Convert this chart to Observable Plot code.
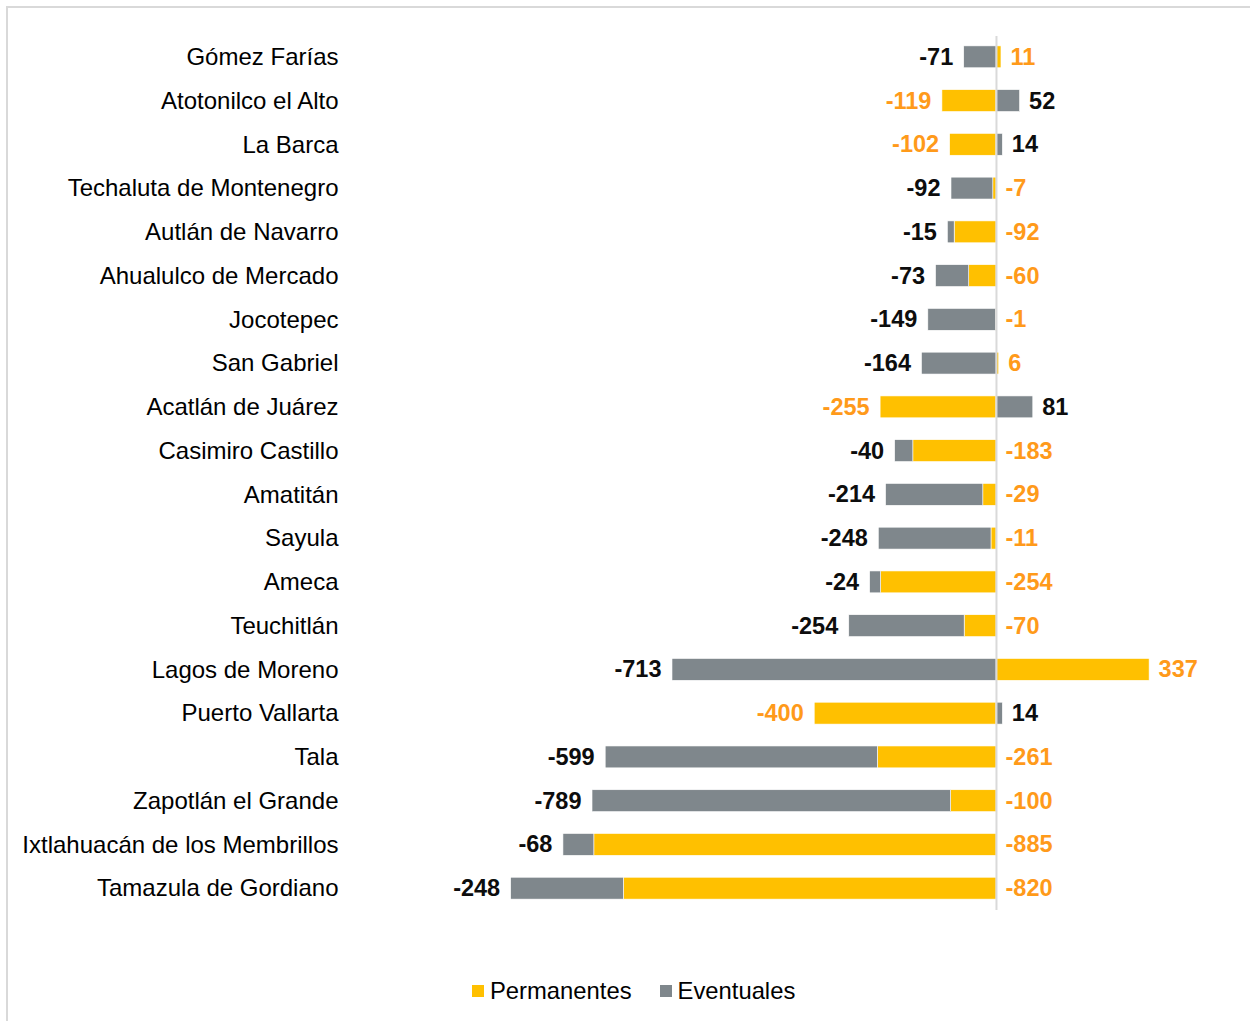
<!DOCTYPE html>
<html>
<head>
<meta charset="utf-8">
<script src="https://cdn.jsdelivr.net/npm/d3@7"></script>
<script src="https://cdn.jsdelivr.net/npm/@observablehq/plot@0.6"></script>
<style>
  html, body { margin: 0; padding: 0; overflow: hidden; background: #fff; width: 1250px; height: 1021px; }
  #frame { position: absolute; left: 6px; top: 6px; width: 1300px; height: 1100px; border: 2px solid #D9D9D9; box-sizing: border-box; }
  #chart { position: absolute; left: 0; top: 0; }
  #legend { position: absolute; left: 472px; top: 977px; display: flex; align-items: center;
            font-family: "Liberation Sans", Arial, sans-serif; font-size: 23.8px; color: #000; }
  .sw { width: 12px; height: 12px; display: inline-block; margin-right: 6px; }
  .item { display: flex; align-items: center; margin-right: 28px; }
</style>
</head>
<body>
<div id="frame"></div>
<div id="chart"></div>
<div id="legend"></div>
<script>
const categories = [
  "Gómez Farías", "Atotonilco el Alto", "La Barca", "Techaluta de Montenegro",
  "Autlán de Navarro", "Ahualulco de Mercado", "Jocotepec", "San Gabriel",
  "Acatlán de Juárez", "Casimiro Castillo", "Amatitán", "Sayula", "Ameca",
  "Teuchitlán", "Lagos de Moreno", "Puerto Vallarta", "Tala",
  "Zapotlán el Grande", "Ixtlahuacán de los Membrillos", "Tamazula de Gordiano"
];
const permanentes = [11, -119, -102, -7, -92, -60, -1, 6, -255, -183, -29, -11, -254, -70, 337, -400, -261, -100, -885, -820];
const eventuales  = [-71, 52, 14, -92, -15, -73, -149, -164, 81, -40, -214, -248, -24, -254, -713, 14, -599, -789, -68, -248];
const series = ["Permanentes", "Eventuales"];
const barColors = ["#FFC000", "#7F878C"];
const labelColors = {"Permanentes": "#FF9A1A", "Eventuales": "#0D0D0D"};

const rows = categories.flatMap((c, i) => [
  {cat: c, serie: "Permanentes", value: permanentes[i]},
  {cat: c, serie: "Eventuales", value: eventuales[i]}
]);

const leftLabels = [], rightLabels = [];
categories.forEach((c, i) => {
  const p = permanentes[i], e = eventuales[i];
  const neg = Math.min(p, 0) + Math.min(e, 0);
  const pos = Math.max(p, 0) + Math.max(e, 0);
  let l, r;
  if (p < 0 && e < 0) { l = {serie: "Eventuales", value: e}; r = {serie: "Permanentes", value: p}; }
  else if (p < 0) { l = {serie: "Permanentes", value: p}; r = {serie: "Eventuales", value: e}; }
  else { l = {serie: "Eventuales", value: e}; r = {serie: "Permanentes", value: p}; }
  leftLabels.push({cat: c, x: neg, ...l});
  rightLabels.push({cat: c, x: pos, ...r});
});

const chart = Plot.plot({
  width: 1250,
  height: 940,
  marginLeft: 348,
  marginRight: 20,
  marginTop: 24,
  marginBottom: 19,
  style: {fontFamily: "'Liberation Sans', Arial, sans-serif", background: "transparent"},
  x: {domain: [-1426, 515], axis: null},
  y: {domain: categories, padding: 0.5, round: false, axis: null},
  color: {domain: series, range: barColors},
  marks: [
    Plot.axisY({tickSize: 0, tickPadding: 10, fontSize: 24, fill: "#000", label: null}),
    Plot.barX(rows, {x: "value", y: "cat", fill: "serie", stroke: "#ffffff", strokeWidth: 0.6}),
    Plot.ruleX([0], {stroke: "#D9D9D9", strokeWidth: 2, insetTop: 12, insetBottom: 11}),
    Plot.text(leftLabels, {x: "x", y: "cat", text: d => String(d.value), textAnchor: "end", dx: -11,
      fill: d => labelColors[d.serie], fontWeight: "bold", fontSize: 23.5}),
    Plot.text(rightLabels, {x: "x", y: "cat", text: d => String(d.value), textAnchor: "start", dx: 9,
      fill: d => labelColors[d.serie], fontWeight: "bold", fontSize: 23.5})
  ]
});
document.getElementById("chart").append(chart);

const legend = document.getElementById("legend");
series.forEach((s, i) => {
  const item = document.createElement("div");
  item.className = "item";
  const sw = document.createElement("span");
  sw.className = "sw";
  sw.style.background = barColors[i];
  const t = document.createElement("span");
  t.textContent = s;
  item.append(sw, t);
  legend.append(item);
});
</script>
</body>
</html>
